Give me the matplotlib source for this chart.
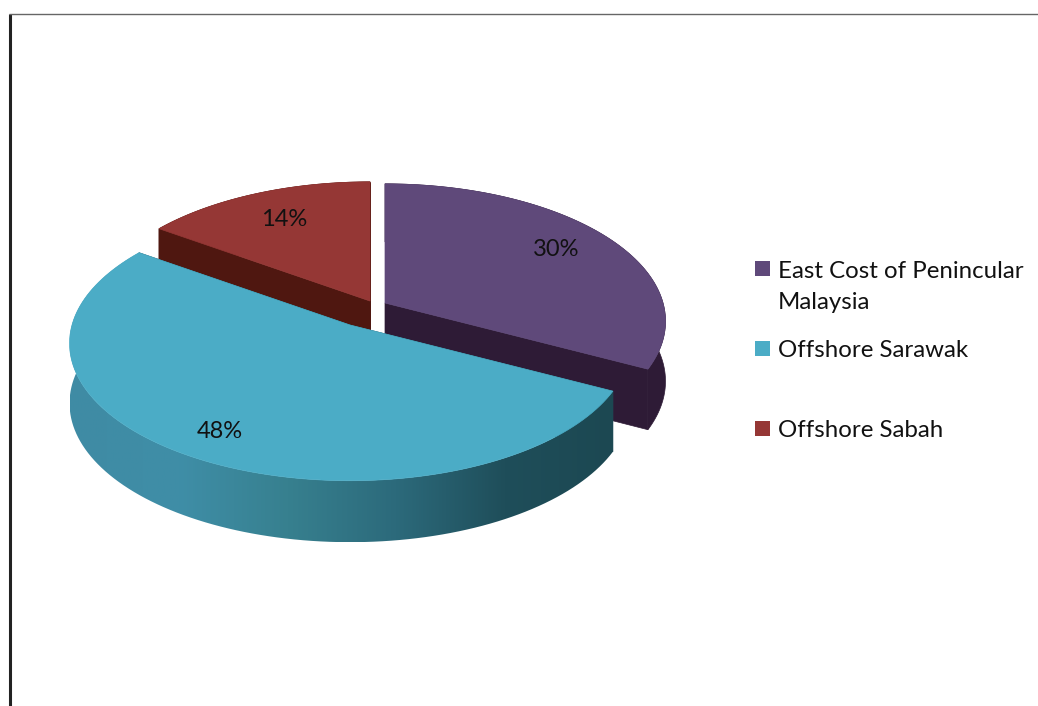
import numpy as np
import matplotlib
matplotlib.use('Agg')
import matplotlib.pyplot as plt
from matplotlib.colors import LinearSegmentedColormap
from matplotlib.patches import Polygon, Rectangle

# shares of each region
labels = ['East Cost of Penincular\nMalaysia', 'Offshore Sarawak', 'Offshore Sabah']
values = [30, 48, 14]
pct_text = ['30%', '48%', '14%']

top_colors = ['#5F497A', '#4BACC6', '#953735']
side_colors = ['#2E1B36', '#1F4E5A', '#4F1710']

# pie geometry, in pixels
RX = 278.0
RY = 135.0
PERSP = 0.133
DEPTH = 58.0
centers = [(385, 303), (350, 325), (370, 301)]
pct_pos = [(556, 249), (220, 431), (284, 219)]
legend_y = [268.5, 348.5, 428.5]
# baseline of the last line of each entry
text_y = [309, 357, 437]


def project(u, v, center, drop=0.0):
    # flat disc coords -> screen, the front of the disc comes out bigger
    s = 1.0 / (1.0 + PERSP * v)
    return center[0] + RX * u * s, center[1] - RY * v * s + drop * (1 + 0.03 * (1 - v))


def arc(a0, a1, center, drop=0.0, n=120):
    t = np.radians(np.linspace(a0, a1, n))
    x, y = project(np.sin(t), np.cos(t), center, drop)
    return np.column_stack([x, y])


fig = plt.figure(figsize=(10.38, 7.06), dpi=100)
ax = fig.add_axes([0, 0, 1, 1])
ax.set_xlim(0, 1038)
ax.set_ylim(706, 0)
ax.axis('off')

# sweep angles, clockwise from the top
total = float(sum(values))
edges = np.concatenate([[0], np.cumsum(values)]) / total * 360.0
spans = list(zip(edges[:-1], edges[1:]))

rim_cmap = LinearSegmentedColormap.from_list(
    'rim', ['#3F8BA4', '#3F8EA7', '#37808F', '#2C6A7B', '#1F4E5A', '#1C4852'])

# back slices first, the big one goes on top of them
for i in [2, 0, 1]:
    a0, a1 = spans[i]
    c = centers[i]
    apex = np.array(project(0.0, 0.0, c))
    apex_low = np.array(project(0.0, 0.0, c, DEPTH))
    top = arc(a0, a1, c)
    low = arc(a0, a1, c, DEPTH)

    # cut faces
    for p, q in [(top[0], low[0]), (top[-1], low[-1])]:
        ax.add_patch(Polygon([apex, p, q, apex_low], closed=True, fc=side_colors[i], ec=side_colors[i],
                             lw=0.5, zorder=2))

    # outer wall
    wall = np.vstack([top, low[::-1]])
    if i == 1:
        x0, x1 = wall[:, 0].min(), wall[:, 0].max()
        y0, y1 = wall[:, 1].min(), wall[:, 1].max()
        grad = np.linspace(0, 1, 256).reshape(1, -1)
        im = ax.imshow(grad, cmap=rim_cmap, extent=[x0, x1, y1, y0], aspect='auto', zorder=4)
        clip = Polygon(wall, closed=True, transform=ax.transData, fc='none', ec='none')
        ax.add_patch(clip)
        im.set_clip_path(clip)
    else:
        ax.add_patch(Polygon(wall, closed=True, fc=side_colors[i], ec=side_colors[i], lw=0.5,
                             zorder=3 if i == 0 else 2))

    z = 5 if i == 1 else 3.5
    ax.add_patch(Polygon(np.vstack([apex, top]), closed=True, fc=top_colors[i], ec=top_colors[i],
                         lw=0.5, zorder=z))

ax.set_xlim(0, 1038)
ax.set_ylim(706, 0)

for (x, y), s in zip(pct_pos, pct_text):
    ax.text(x, y, s, family='Lato', fontsize=17, color='#111111', ha='center', va='center', zorder=6)

# legend
for y, ty, s, col in zip(legend_y, text_y, labels, top_colors):
    ax.add_patch(Rectangle((755, y - 7.5), 15, 15, fc=col, ec='none', zorder=6))
    ax.text(778, ty, s, family='Lato', fontsize=17.3, color='#111111', ha='left', va='baseline',
            linespacing=1.58, zorder=6)

# frame, top and left only
ax.plot([10, 10], [706, 14], color='#222222', lw=2.2, solid_capstyle='butt', zorder=7)
ax.plot([9, 1038], [14, 14], color='#666666', lw=1.0, solid_capstyle='butt', zorder=7)

fig.savefig('out.png', dpi=100)
